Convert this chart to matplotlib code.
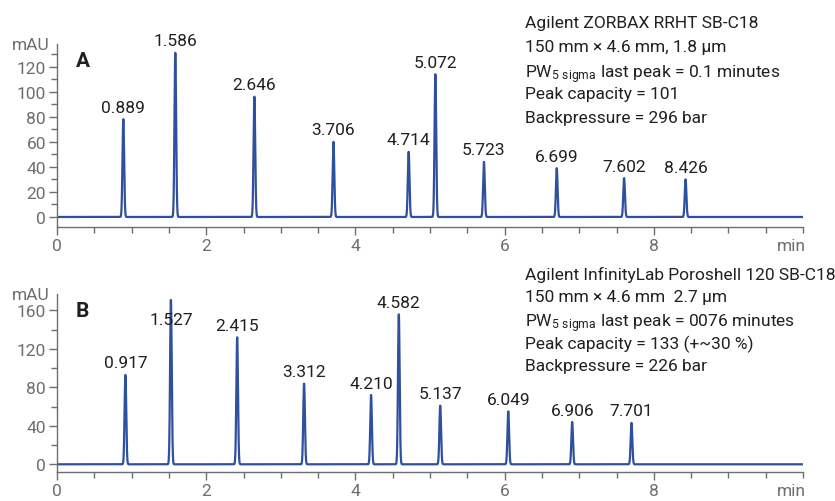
import numpy as np
import matplotlib
matplotlib.use("Agg")
import matplotlib.pyplot as plt
from matplotlib.ticker import MultipleLocator
from matplotlib import font_manager

fams = {f.name for f in font_manager.fontManager.ttflist}
cands = ['Roboto', 'Liberation Sans']
FONT = next((c for c in cands if c in fams), 'DejaVu Sans')
plt.rcParams['font.family'] = [FONT, 'DejaVu Sans']
plt.rcParams['mathtext.fontset'] = 'custom'
plt.rcParams['mathtext.rm'] = FONT
plt.rcParams['mathtext.it'] = FONT

# peak data: retention time (min) and height (mAU)
times_a = [0.889, 1.586, 2.646, 3.706, 4.714, 5.072, 5.723, 6.699, 7.602, 8.426]
heights_a = [78, 131, 96, 60, 52, 114, 44, 39, 31, 30]
times_b = [0.917, 1.527, 2.415, 3.312, 4.210, 4.582, 5.137, 6.049, 6.906, 7.701]
heights_b = [93, 171, 132, 84, 72, 156, 61, 55, 44, 43]

info_a = ["Agilent ZORBAX RRHT SB-C18",
          "150 mm \u00d7 4.6 mm, 1.8 \u00b5m",
          "PW$_{5\\ \\mathrm{sigma}}$ last peak = 0.1 minutes",
          "Peak capacity = 101",
          "Backpressure = 296 bar"]
info_b = ["Agilent InfinityLab Poroshell 120 SB-C18",
          "150 mm \u00d7 4.6 mm  2.7 \u00b5m",
          "PW$_{5\\ \\mathrm{sigma}}$ last peak = 0076 minutes",
          "Peak capacity = 133 (+~30 %)",
          "Backpressure = 226 bar"]

BLUE = "#2f4f9f"
GRAY = "#6d6e71"
DARK = "#231f20"
FS = 12.5

W, H = 835, 502
fig = plt.figure(figsize=(W / 100, H / 100), dpi=100)


def px_axes(x0, y0, x1, y1):
    return fig.add_axes([x0 / W, 1 - y1 / H, (x1 - x0) / W, (y1 - y0) / H])


t = np.linspace(0, 10, 8001)


def panel(ax, times, heights, ylim, ymaj, ymin_, letter, info, label_override):
    sig = 0.011
    y = np.zeros_like(t)
    for tr, h in zip(times, heights):
        y += h * np.exp(-0.5 * ((t - tr) / sig) ** 2)
    ax.plot(t, y, color=BLUE, lw=1.6)
    ax.set_xlim(0, 10)
    ax.set_ylim(*ylim)
    for s in ['top', 'right']:
        ax.spines[s].set_visible(False)
    for s in ['left', 'bottom']:
        ax.spines[s].set_color(GRAY)
        ax.spines[s].set_linewidth(1.0)
    ax.xaxis.set_minor_locator(MultipleLocator(0.5))
    ax.yaxis.set_minor_locator(MultipleLocator(ymin_))
    ax.set_yticks(list(range(0, int(ylim[1]), ymaj)))
    ax.set_xticks([0, 2, 4, 6, 8])
    ax.tick_params(axis='both', which='major', colors=GRAY, labelsize=FS, length=6, width=1)
    ax.tick_params(axis='both', which='minor', colors=GRAY, length=4, width=1)
    ax.tick_params(axis='x', pad=2)
    ax.tick_params(axis='y', pad=2)
    ax.annotate("min", xy=(1.0, 0), xycoords='axes fraction', xytext=(2, -8),
                textcoords='offset points', ha='right', va='top', color=GRAY, fontsize=FS)
    ax.text(-0.01, 1.0, "mAU", transform=ax.transAxes, ha='right', va='center',
            color=GRAY, fontsize=FS)
    ax.text(0.025, 0.96, letter, transform=ax.transAxes, ha='left', va='top',
            color=DARK, fontsize=15, fontweight='bold')
    span = ylim[1] - ylim[0]
    for i, (tr, h) in enumerate(zip(times, heights)):
        yl = label_override.get(i, h + 0.025 * span)
        ax.text(tr, yl, f"{tr:.3f}", ha='center', va='bottom', color=DARK, fontsize=FS)
    for k, line in enumerate(info):
        ax.text(0.627, 1.16 - k * 0.13, line, transform=ax.transAxes, ha='left', va='top',
                color=DARK, fontsize=FS)


ax_a = px_axes(57, 45, 803, 228)
panel(ax_a, times_a, heights_a, (-8, 138), 20, 10, "A", info_a, {})

ax_b = px_axes(57, 295, 803, 473)
panel(ax_b, times_b, heights_b, (-8, 177), 40, 20, "B", info_b, {1: 143})

fig.savefig("out.png", dpi=100)
